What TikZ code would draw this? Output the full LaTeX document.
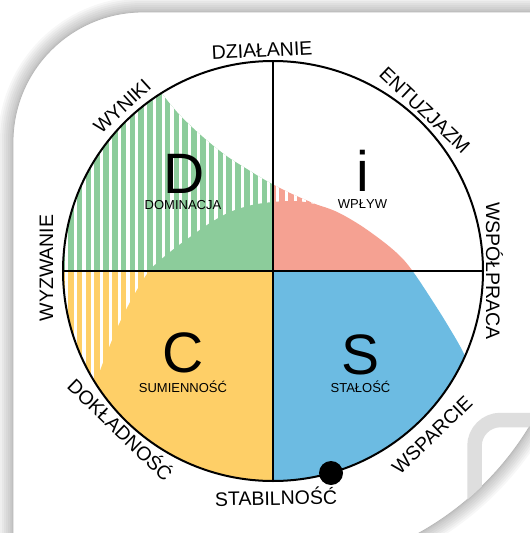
\documentclass[tikz,border=0pt]{standalone}
\usepackage{fontspec}
\setmainfont{Liberation Sans}
\definecolor{discgreen}{RGB}{140,204,155}
\definecolor{discpink}{RGB}{245,161,146}
\definecolor{discblue}{RGB}{108,187,226}
\definecolor{discyellow}{RGB}{254,207,103}
\definecolor{markgray}{RGB}{222,222,222}
\begin{document}
\begin{tikzpicture}[x=1pt,y=-1pt,
  cardshape/.style={insert path={(13,142) .. controls (13,70.2) and (71.2,12) .. (143,12) -- (545,12) -- (545,397.6)
      -- plot[domain=24.96:65.96, samples=40, variable=\t] ({273+300*cos(\t)},{271+300*sin(\t)}) -- (13,545) -- cycle}},
  hatchshape/.style={insert path={(0,0) -- (150,0) -- plot[smooth, tension=0.55] coordinates {(150,78) (163,95) (177,112) (193,128) (210,143) (228,157) (247,169) (265,180) (290,193) (320,206)} -- (320,600) -- (0,600) -- cycle}},
  solidshape/.style={insert path={plot[smooth, tension=0.55] coordinates {(80,440) (97,380) (108,350) (120,322) (134,295) (150,270) (170,252) (190,237) (210,223) (230,212) (252,205) (273,202) (292,201) (310,203) (335,211) (360,225) (385,243) (402,258) (414,273) (430,297) (447,324) (465,356) (482,400)} -- (482,600) -- (80,600) -- cycle}},
  outerlabel/.style={font=\fontsize{19.5}{20}\selectfont, inner sep=0pt, text height=14pt, text depth=0pt, anchor=center},
  innerlabel/.style={font=\fontsize{13}{14}\selectfont, inner sep=0pt, anchor=base},
  bigletter/.style={font=\fontsize{57}{60}\selectfont, inner sep=0pt, anchor=base},
  quadline/.style={line width=1.3pt, black},
  rim/.style={line width=2pt, black}]
\useasboundingbox (0,0) rectangle (530,533);
\fill[white] (0,0) rectangle (530,533);
% card shadow
\foreach \w in {30,26,22,18,14,10,6,3} {
  \draw[line width=\w pt, black, opacity=0.032, cardshape];
}
\fill[white, cardshape];
\draw[line width=0.8pt, black!28, cardshape];
% watermark
\begin{scope}
  \clip[cardshape];
  \draw[line width=14.5pt, markgray, rounded corners=26pt] (474.5,560) -- (474.5,420) -- (560,420);
\end{scope}
% named points
\coordinate (O) at (273,271);
\coordinate (T) at (273,61);
\coordinate (B) at (273,481);
\coordinate (L) at (63,271);
\coordinate (R) at (483,271);
\coordinate (dot) at (331,473);
% disc
\begin{scope}
  \clip (O) circle[radius=210pt];
  \begin{scope}
    \clip[hatchshape];
    \fill[discgreen] (0,0) rectangle (273,271);
    \fill[discyellow] (0,271) rectangle (273,533);
    \fill[discpink] (273,0) rectangle (530,271);
    \foreach \k in {-4,...,26} {
      \fill[white] ({277.5-8.8*\k-1.6},0) rectangle ({277.5-8.8*\k+1.6},533);
    }
  \end{scope}
  \begin{scope}
    \clip[solidshape];
    \fill[discgreen] (0,0) rectangle (273,271);
    \fill[discyellow] (0,271) rectangle (273,533);
    \fill[discpink] (273,0) rectangle (530,271);
    \fill[discblue] (273,271) rectangle (530,533);
  \end{scope}
\end{scope}
\draw[quadline] (T) -- (B);
\draw[quadline] (L) -- (R);
\draw[rim] (O) circle[radius=210pt];
\fill[black] (dot) circle[radius=12pt];
% quadrant letters
\node[bigletter] (dletter) at (184,193) {D};
\node[innerlabel] (dlabel) at (183,209) {DOMINACJA};
\node[bigletter] (iletter) at (362.5,191) {i};
\node[innerlabel] (ilabel) at (362.5,208) {WPŁYW};
\node[bigletter] (cletter) at (183,372) {C};
\node[innerlabel] (clabel) at (183,392) {SUMIENNOŚĆ};
\node[bigletter] (sletter) at (360.5,374) {S};
\node[innerlabel] (slabel) at (360.5,392) {STAŁOŚĆ};
% outer labels
\node[outerlabel, rotate=3] (dzialanie) at (262,50) {DZIAŁANIE};
\node[outerlabel, rotate=-43.5] (entuzjazm) at (425,110) {ENTUZJAZM};
\node[outerlabel, rotate=-90] (wspolpraca) at (493,271) {WSPÓŁPRACA};
\node[outerlabel, rotate=44] (wsparcie) at (432,435) {WSPARCIE};
\node[outerlabel, rotate=1] (stabilnosc) at (276,498) {STABILNOŚĆ};
\node[outerlabel, rotate=-44] (dokladnosc) at (120,430) {DOKŁADNOŚĆ};
\node[outerlabel, rotate=90] (wyzwanie) at (46,268) {WYZWANIE};
\node[outerlabel, rotate=42.5] (wyniki) at (122,106) {WYNIKI};
\end{tikzpicture}
\end{document}
